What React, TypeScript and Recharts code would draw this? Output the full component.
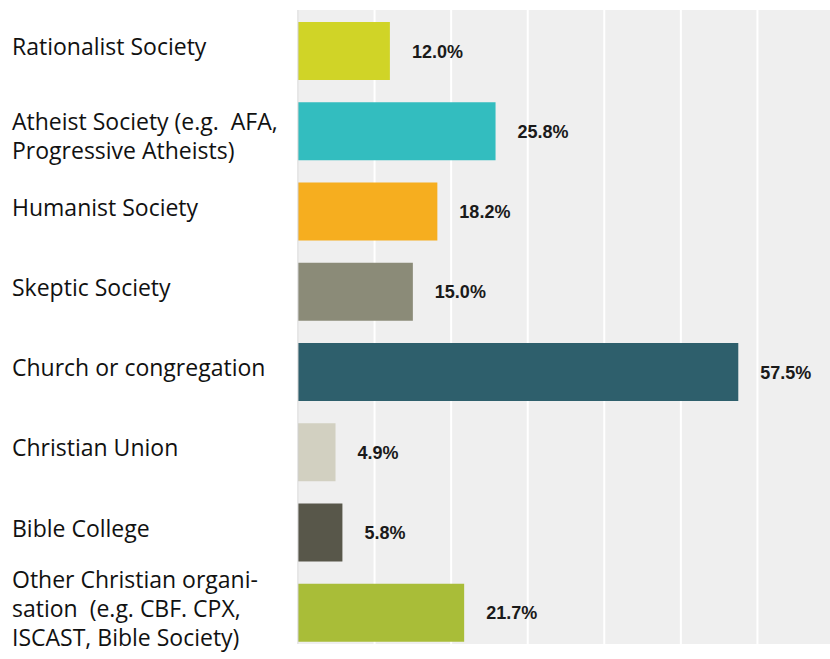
import { Bar, BarChart, CartesianGrid, Cell, LabelList, ReferenceLine, XAxis, YAxis } from "recharts";

const categories = [
  "Rationalist Society",
  "Atheist Society (e.g.  AFA,\nProgressive Atheists)",
  "Humanist Society",
  "Skeptic Society",
  "Church or congregation",
  "Christian Union",
  "Bible College",
  "Other Christian organi-\nsation  (e.g. CBF. CPX,\nISCAST, Bible Society)",
];

const percents = [12.0, 25.8, 18.2, 15.0, 57.5, 4.9, 5.8, 21.7];

const barColors = [
  "#d0d427",
  "#33bdbf",
  "#f6ae1f",
  "#8b8b78",
  "#2e5f6c",
  "#d2d0c1",
  "#58574a",
  "#a9bd38",
];

const xTicks = [0, 10, 20, 30, 40, 50, 60, 70];

const data = categories.map((name, i) => ({ name, value: percents[i] }));

// first-baseline shift by number of lines in a label
const LINE_SHIFT = [4, -1, -25];

function CategoryTick({ y, payload }: { y: number; payload: { value: string } }) {
  const lines = String(payload.value).split("\n");
  const first = y + LINE_SHIFT[lines.length - 1];
  return (
    <text
      x={12}
      y={first}
      fontFamily="'Open Sans', sans-serif"
      fontSize={23}
      fill="#111"
      style={{ whiteSpace: "pre" }}
    >
      {lines.map((line, i) => (
        <tspan key={i} x={12} y={first + i * 29}>
          {line}
        </tspan>
      ))}
    </text>
  );
}

const renderValue = (props: any) => {
  const { x, y, width, height, value } = props;
  return (
    <text
      x={Number(x) + Number(width) + 22}
      y={Number(y) + Number(height) / 2}
      dy={6.5}
      fontFamily="'Liberation Sans', Arial, sans-serif"
      fontWeight="bold"
      fontSize={18}
      fill="#1a1a1a"
    >
      {`${Number(value).toFixed(1)}%`}
    </text>
  );
};

export default function App() {
  return (
    <div
      style={{
        position: "absolute",
        left: 0,
        top: 0,
        width: 830,
        height: 659,
        overflow: "hidden",
        background: "#fff",
      }}
    >
      <BarChart
        width={834}
        height={659}
        data={data}
        layout="vertical"
        margin={{ top: 10, right: 0, bottom: 15, left: 0 }}
      >
        <CartesianGrid
          horizontal={false}
          stroke="#ffffff"
          strokeWidth={2}
          fill="#efefef"
          y={10}
          height={634}
        />
        <XAxis type="number" domain={[0, 70]} ticks={xTicks} hide />
        <YAxis
          type="category"
          dataKey="name"
          width={298}
          axisLine={false}
          tickLine={false}
          tick={CategoryTick as any}
          padding={{ top: 1, bottom: -9 }}
          interval={0}
        />
        <ReferenceLine x={0} stroke="#cfcfcf" strokeWidth={1} />
        <Bar dataKey="value" barSize={58} isAnimationActive={false}>
          {data.map((entry, i) => (
            <Cell key={`cell-${entry.name}`} fill={barColors[i]} />
          ))}
          <LabelList dataKey="value" content={renderValue} />
        </Bar>
      </BarChart>
    </div>
  );
}
